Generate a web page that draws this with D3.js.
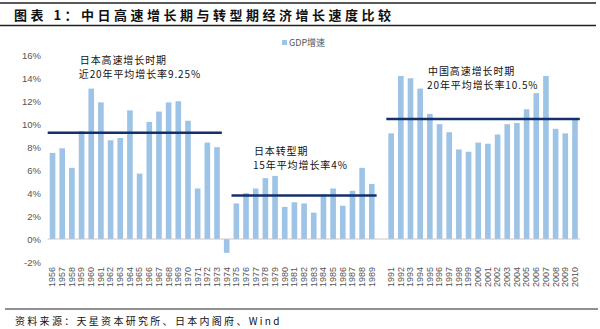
<!DOCTYPE html>
<html><head><meta charset="utf-8">
<script src="https://cdn.jsdelivr.net/npm/d3@7/dist/d3.min.js"></script>
<style>
body{margin:0;background:#fff;}
svg{display:block;}
</style></head>
<body>
<svg id="c" width="600" height="329"></svg>
<script>
const categories = ["1956","1957","1958","1959","1960","1961","1962","1963","1964","1965","1966","1967","1968","1969","1970","1971","1972","1973","1974","1975","1976","1977","1978","1979","1980","1981","1982","1983","1984","1985","1986","1987","1988","1989","","1991","1992","1993","1994","1995","1996","1997","1998","1999","2000","2001","2002","2003","2004","2005","2006","2007","2008","2009","2010"];
const gdpGrowth = [7.5,7.9,6.2,9.4,13.1,11.9,8.6,8.8,11.2,5.7,10.2,11.1,11.9,12.0,10.3,4.4,8.4,8.0,-1.2,3.1,4.0,4.4,5.3,5.5,2.8,3.2,3.1,2.3,3.9,4.4,2.9,4.2,6.2,4.8,null,9.2,14.2,14.0,13.1,10.9,10.0,9.3,7.8,7.6,8.4,8.3,9.1,10.0,10.1,11.3,12.7,14.2,9.6,9.2,10.4];
const yTicks = [-2,0,2,4,6,8,10,12,14,16];
const avgStart = ["1956","1975","1991"];
const avgEnd = ["1973","1989","2010"];
const avgValue = [9.25,3.8,10.45];
const noteLine1 = ["日本高速增长时期","日本转型期","中国高速增长时期"];
const noteLine2 = ["近20年平均增长率9.25%","15年平均增长率4%","20年平均增长率10.5%"];
const noteAt = ["1959","1977","1995"];
const noteVal = [15.2,7.3,14.3];

const svg = d3.select("#c");
const cjk = "'Noto Sans CJK SC','Noto Sans',sans-serif";
const lat = "'Liberation Sans',Arial,sans-serif";

const x = d3.scaleBand().domain(categories.map((d,i)=>i)).range([47.7,579.8]).paddingInner(0.42).paddingOuter(0.21);
const y = d3.scaleLinear().domain([-2,16]).range([262,55.3]);
const idx = c => categories.indexOf(c);

// title
svg.append("line").attr("x1",0).attr("x2",596).attr("y1",3).attr("y2",3).attr("stroke","#222").attr("stroke-width",1.5);
svg.append("line").attr("x1",0).attr("x2",596).attr("y1",25.5).attr("y2",25.5).attr("stroke","#222").attr("stroke-width",1.5);
svg.append("text").attr("x",14).attr("y",19.5).attr("font-family",cjk).attr("font-size",13).attr("font-weight","bold")
  .attr("letter-spacing","3.5px").attr("fill","#111").text("图表 1：中日高速增长期与转型期经济增长速度比较");

// y axis
const ya = svg.append("g").attr("transform","translate(41,0)")
  .call(d3.axisLeft(y).tickValues(yTicks).tickSize(0).tickPadding(0).tickFormat(d=>d+"%"));
ya.select(".domain").remove();
ya.selectAll("text").attr("font-family",lat).attr("font-size",9.5).attr("fill","#555");

// bars
const bars = svg.append("g");
gdpGrowth.forEach((v,i)=>{
  if(v===null) return;
  bars.append("rect").attr("x",x(i)).attr("width",x.bandwidth())
    .attr("y",y(Math.max(0,v))).attr("height",Math.abs(y(v)-y(0))).attr("fill","#9DC3E6");
});

// baseline
svg.append("line").attr("x1",47.7).attr("x2",579.8).attr("y1",y(0)).attr("y2",y(0)).attr("stroke","#c8c8c8").attr("stroke-width",1);

// x axis labels
const xa = svg.append("g").attr("transform",`translate(0,${y(0)})`)
  .call(d3.axisBottom(x).tickSize(0).tickFormat(i=>categories[i]));
xa.select(".domain").remove();
xa.selectAll("text").attr("font-family",lat).attr("font-size",9).attr("fill","#555")
  .attr("text-anchor","end").attr("transform","translate(0,28) rotate(-90)").attr("x",0).attr("y",0).attr("dy","0.32em");

// average lines
avgValue.forEach((v,k)=>{
  const s = x(idx(avgStart[k])) - x.step()*x.paddingInner()/2;
  const e = x(idx(avgEnd[k])) + x.bandwidth() + x.step()*x.paddingInner()/2;
  svg.append("line").attr("x1",s).attr("x2",e).attr("y1",y(v)).attr("y2",y(v))
    .attr("stroke","#14306b").attr("stroke-width",2.5);
});

// annotations
noteLine1.forEach((t,k)=>{
  const px = x(idx(noteAt[k]));
  const g = svg.append("g").attr("font-family",cjk).attr("font-size",10).attr("fill","#111").attr("letter-spacing","0.9px");
  g.append("text").attr("x",px+1).attr("y",y(noteVal[k])).text(t);
  g.append("text").attr("x",px).attr("y",y(noteVal[k])+14).text(noteLine2[k]);
});

// legend
svg.append("rect").attr("x",282).attr("y",40).attr("width",5).attr("height",5).attr("fill","#9DC3E6");
svg.append("text").attr("x",289).attr("y",46).attr("font-family",cjk).attr("font-size",9).attr("fill","#555").text("GDP增速");

// source
svg.append("line").attr("x1",5).attr("x2",598).attr("y1",309).attr("y2",309).attr("stroke","#222").attr("stroke-width",1.2);
svg.append("text").attr("x",15).attr("y",325).attr("font-family",cjk).attr("font-size",10).attr("letter-spacing","2.3px").attr("fill","#111")
  .text("资料来源：天星资本研究所、日本内阁府、Wind");
</script>
</body></html>
